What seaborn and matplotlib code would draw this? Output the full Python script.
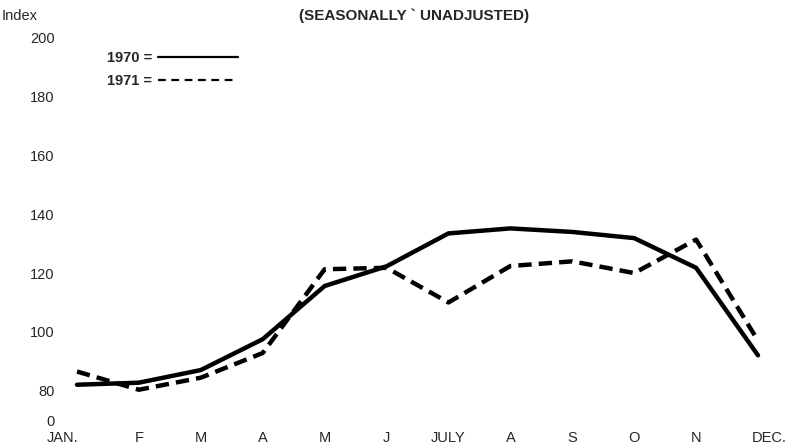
import pandas as pd
import matplotlib
matplotlib.use("Agg")
import matplotlib.pyplot as plt
import matplotlib.transforms as mtrans
import seaborn as sns

# === DATA ===
MONTHS = ["JAN.", "F", "M", "A", "M", "J", "JULY", "A", "S", "O", "N", "DEC."]
IDX_1970 = [82, 82.7, 87, 97.5, 115.6, 122.3, 133.5, 135.2, 134, 131.9, 121.8, 92]
IDX_1971 = [86.5, 80.3, 84.4, 92.8, 121.3, 121.8, 110, 122.4, 124, 120, 131.4, 97]
YTICKS = [70, 80, 100, 120, 140, 160, 180, 200]
YTICK_LABELS = ["0", "80", "100", "120", "140", "160", "180", "200"]

df = pd.DataFrame({
    "pos": list(range(12)) * 2,
    "index": IDX_1970 + IDX_1971,
    "year": ["1970"] * 12 + ["1971"] * 12,
})

sns.set_style("white")
plt.rcParams["font.family"] = ["Liberation Sans", "DejaVu Sans"]

fig = plt.figure(figsize=(7.92, 4.48), dpi=100)
ax = fig.add_axes([77 / 792, 28 / 448, 681 / 792, 382 / 448])

sns.lineplot(data=df, x="pos", y="index", style="year",
             dashes={"1970": "", "1971": (3, 1.6)},
             color="black", linewidth=3.2, ax=ax, legend=True)

ax.set_xlim(0, 11)
ax.set_ylim(70, 200)
for ln in ax.lines:
    ln.set_clip_on(False)
    ln.set_solid_joinstyle("miter")
    ln.set_dash_capstyle("butt")

sns.despine(ax=ax, left=True, bottom=True)
ax.set_xticks(range(12))
ax.set_xticklabels(MONTHS, fontsize=10.5)
ax.set_yticks(YTICKS)
ax.set_yticklabels(YTICK_LABELS, fontsize=10.5)
ax.tick_params(axis="both", length=0)
ax.tick_params(axis="y", pad=16)
ax.tick_params(axis="x", pad=8)
# first and last month labels sit a bit outside their points
xl = ax.get_xticklabels()
xl[0].set_transform(xl[0].get_transform() + mtrans.ScaledTranslation(-14 / 100, 0, fig.dpi_scale_trans))
xl[-1].set_transform(xl[-1].get_transform() + mtrans.ScaledTranslation(11 / 100, 0, fig.dpi_scale_trans))

ax.set_xlabel("")
ax.set_ylabel("")

leg = ax.legend(loc="upper left", bbox_to_anchor=(0.025, 1.0), frameon=False,
                markerfirst=False, handlelength=5.5, handletextpad=0.4,
                labelspacing=0.6, fontsize=10.5)
for t in leg.get_texts():
    t.set_text(t.get_text() + " =")
    t.set_fontweight("bold")
for h in leg.get_lines():
    h.set_linewidth(1.6)
leg.get_lines()[1].set_dashes((3.5, 2.5))

fig.text(2 / 792, 1 - 16 / 448, "Index", fontsize=10.5, va="center", ha="left")
fig.text(414 / 792, 1 - 16 / 448, "(SEASONALLY ` UNADJUSTED)", fontsize=11,
         fontweight="bold", va="center", ha="center")

fig.savefig("out.png", dpi=100, facecolor="white")
